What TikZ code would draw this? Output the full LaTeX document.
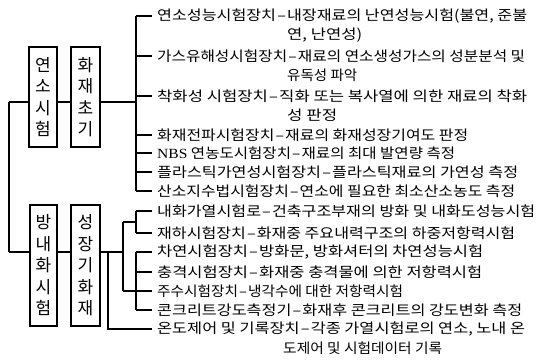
\documentclass[tikz,border=0pt]{standalone}
\usepackage{fontspec}
\usepackage{graphicx}
\setmainfont{Liberation Serif}
\newfontfamily\kr{Noto Sans CJK KR}
\newcommand\fitw[2]{\resizebox{#1pt}{\height}{#2}}
\newcommand\dsh{\kern1pt–\kern1pt}
\begin{document}
\begin{tikzpicture}[x=1pt,y=-1pt,
  txt/.style={anchor=west,inner sep=0pt,font=\kr\fontsize{14pt}{16pt}\selectfont},
  vbox/.style={draw,line width=1.4pt,inner sep=0pt,align=center,
    font=\kr\fontsize{17pt}{21.5pt}\selectfont},
  conn/.style={line width=1.1pt}]
\useasboundingbox (0,0) rectangle (539,361);
\fill[white] (0,0) rectangle (539,361);
% boxes
\node[vbox,minimum width=28pt,minimum height=100pt] (A) at (43,97) {연\\소\\시\\험};
\node[vbox,minimum width=29pt,minimum height=100pt] (B) at (85.5,97) {화\\재\\초\\기};
\node[vbox,minimum width=27pt,minimum height=121pt] (C) at (43.5,265.5) {방\\내\\화\\시\\험};
\node[vbox,minimum width=29pt,minimum height=121pt] (D) at (85.5,265.5) {성\\장\\기\\화\\재};
% texts
\node[txt] (t1) at (157,16) {\fitw{370}{연소성능시험장치\dsh 내장재료의 난연성능시험(불연, 준불}};
\node[txt] (t2) at (287,35) {\fitw{75}{연, 난연성)}};
\node[txt] (t3) at (157,56) {\fitw{368}{가스유해성시험장치\dsh 재료의 연소생성가스의 성분분석 및}};
\node[txt] (t4) at (287,75) {\fitw{70}{유독성 파악}};
\node[txt] (t5) at (157,96) {\fitw{370}{착화성 시험장치\dsh 직화 또는 복사열에 의한 재료의 착화}};
\node[txt] (t6) at (287,115) {\fitw{50}{성 판정}};
\node[txt] (t7) at (157,135) {\fitw{311}{화재전파시험장치\dsh 재료의 화재성장기여도 판정}};
\node[txt] (t8) at (157,153) {\fitw{298}{{\rmfamily NBS} 연농도시험장치\dsh 재료의 최대 발연량 측정}};
\node[txt] (t9) at (157,172) {\fitw{361}{플라스틱가연성시험장치\dsh 플라스틱재료의 가연성 측정}};
\node[txt] (t10) at (157,191) {\fitw{358}{산소지수법시험장치\dsh 연소에 필요한 최소산소농도 측정}};
\node[txt] (t11) at (157,211) {\fitw{378}{내화가열시험로\dsh 건축구조부재의 방화 및 내화도성능시험}};
\node[txt] (t12) at (157,233) {\fitw{358}{재하시험장치\dsh 화재중 주요내력구조의 하중저항력시험}};
\node[txt] (t13) at (157,252) {\fitw{326}{차연시험장치\dsh 방화문, 방화셔터의 차연성능시험}};
\node[txt] (t14) at (157,272) {\fitw{325}{충격시험장치\dsh 화재중 충격물에 의한 저항력시험}};
\node[txt] (t15) at (157,291) {\fitw{246}{주수시험장치\dsh 냉각수에 대한 저항력시험}};
\node[txt] (t16) at (157,310) {\fitw{365}{콘크리트강도측정기\dsh 화재후 콘크리트의 강도변화 측정}};
\node[txt] (t17) at (157,329) {\fitw{368}{온도제어 및 기록장치\dsh 각종 가열시험로의 연소, 노내 온}};
\node[txt] (t18) at (283,348) {\fitw{159}{도제어 및 시험데이터 기록}};
% junction coordinates
\coordinate (L1) at (9,102);
\coordinate (L2) at (9,252);
\coordinate (bx) at (136,0);
\coordinate (sx) at (123,0);
\coordinate (ox) at (108,0);
\coordinate (m1) at (123,222);
\coordinate (m2) at (123,291);
% left spine
\draw[conn] (L1) -- (L2);
\draw[conn] (L1) -- (L1 -| A.west);
\draw[conn] (L1 -| A.east) -- (L1 -| B.west);
\draw[conn] (L1 -| B.east) -- (L1 -| bx);
\draw[conn] (L2) -- (L2 -| C.west);
\draw[conn] (L2 -| C.east) -- (L2 -| D.west);
\draw[conn] (L2 -| D.east) -- (L2 -| sx);
% top bracket
\draw[conn] (bx |- t1.west) -- (bx |- t10.west);
\foreach \t in {t1,t3,t5,t7,t8,t9,t10}
  \draw[conn] (bx |- \t.west) -- ([xshift=-5pt]\t.west);
% bottom brackets
\draw[conn] (m1) -- (m2);
\draw[conn] (m1) -- (m1 -| bx);
\draw[conn] (bx |- t11.west) -- (bx |- t12.west);
\draw[conn] (bx |- t13.west) -- (bx |- t16.west);
\draw[conn] (m2) -- (m2 -| bx);
\foreach \t in {t11,t12,t13,t14,t15,t16}
  \draw[conn] (bx |- \t.west) -- ([xshift=-5pt]\t.west);
\draw[conn] (L2 -| ox) -- (ox |- t17.west) -- ([xshift=-5pt]t17.west);
\end{tikzpicture}
\end{document}
